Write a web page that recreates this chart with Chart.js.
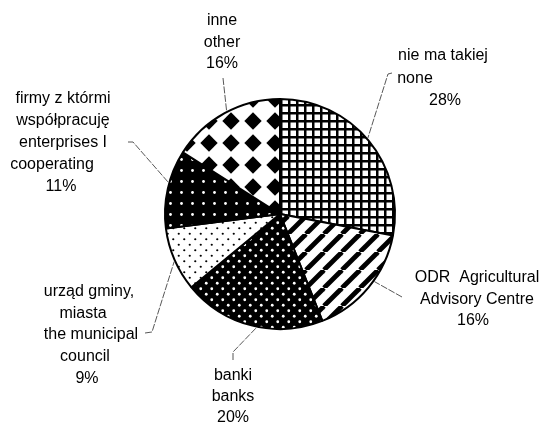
<!DOCTYPE html>
<html>
<head>
<meta charset="utf-8">
<script src="https://cdn.jsdelivr.net/npm/chart.js"></script>
<style>
  html, body { margin: 0; padding: 0; background: #fff; }
  #pie { display: block; }
</style>
</head>
<body>
<canvas id="pie" width="548" height="425"></canvas>
<script>
// slices clockwise from 12 o'clock
const categories = ['nie ma takiej', 'ODR', 'banki', 'urząd gminy', 'firmy', 'inne'];
const shares = [28, 16, 20, 9, 11, 16];
const labelText = [
  ['nie ma takiej', 'none'],
  ['ODR  Agricultural', 'Advisory Centre'],
  ['banki', 'banks'],
  ['urząd gminy,', 'miasta', 'the municipal', 'council'],
  ['firmy z którmi', 'współpracuję', 'enterprises I', 'cooperating'],
  ['inne', 'other']
];

const pieElement = document.getElementById('pie');

const makePattern = (w, h, draw) => {
  const c = document.createElement('canvas');
  c.width = w; c.height = h;
  const g = c.getContext('2d');
  draw(g, w, h);
  return g.createPattern(c, 'repeat');
};

const dots = (g, pts, r, col) => {
  g.fillStyle = col;
  pts.forEach(([x, y]) => { g.beginPath(); g.arc(x, y, r, 0, Math.PI * 2); g.fill(); });
};

const patterns = [
  // grid
  makePattern(8, 8, (g) => {
    g.fillStyle = '#fff'; g.fillRect(0, 0, 8, 8);
    g.fillStyle = '#000'; g.fillRect(0, 0, 8, 2.5); g.fillRect(0, 0, 2.5, 8);
  }),
  // diagonal stripes
  makePattern(18, 18, (g) => {
    g.fillStyle = '#fff'; g.fillRect(0, 0, 18, 18);
    g.strokeStyle = '#000'; g.lineWidth = 4.8;
    [-18, 0, 18].forEach(o => { g.beginPath(); g.moveTo(o, 18); g.lineTo(o + 18, 0); g.stroke(); });
  }),
  // black, dense white dots
  makePattern(11, 11, (g) => {
    g.fillStyle = '#000'; g.fillRect(0, 0, 11, 11);
    dots(g, [[2.75, 2.75], [8.25, 8.25]], 1.4, '#fff');
  }),
  // white, black dots
  makePattern(11, 11, (g) => {
    g.fillStyle = '#fff'; g.fillRect(0, 0, 11, 11);
    dots(g, [[2.75, 2.75], [8.25, 8.25]], 1.1, '#000');
  }),
  // black, sparse white dots
  makePattern(11, 11, (g) => {
    g.fillStyle = '#000'; g.fillRect(0, 0, 11, 11);
    dots(g, [[5.5, 5.5]], 1.4, '#fff');
  }),
  // diamonds
  makePattern(22, 22, (g) => {
    g.fillStyle = '#fff'; g.fillRect(0, 0, 22, 22);
    g.fillStyle = '#000';
    g.beginPath();
    g.moveTo(11, 2.3); g.lineTo(19.7, 11); g.lineTo(11, 19.7); g.lineTo(2.3, 11);
    g.closePath(); g.fill();
  })
];

// label placement relative to pie centre: x = centre of text, y = first baseline
const labelPlace = [
  { x: 163, y: -154, lh: 22.5, shift: [0, -28, 2] },
  { x: 197, y: 68, lh: 21.5, shift: [0, 0, -4] },
  { x: -47, y: 166, lh: 21, shift: [0, 0, 0] },
  { x: -191, y: 82, lh: 21.7, shift: [0, -6, 2, -4, -2] },
  { x: -217, y: -111, lh: 22, shift: [0, 0, 0, -11, -2] },
  { x: -58, y: -189, lh: 21.5, shift: [0, 0, 0] }
];
// leader lines: start points relative to centre, end on the rim at angle (deg clockwise from top)
const leaders = [
  { pts: [[112, -141], [108, -140]], angle: 49.2 },
  { pts: [[122, 83]], angle: 125.6 },
  { pts: [[-47, 146], [-47, 138]], angle: 191.7 },
  { pts: [[-135, 119], [-128, 118]], angle: 245.8 },
  { pts: [[-152, -72], [-147, -72]], angle: 285.8 },
  { pts: [[-57, -136]], angle: 332.6 }
];

const labelPlugin = {
  id: 'pieLabels',
  afterDraw(chart) {
    const ctx = chart.ctx;
    const arcs = chart.getDatasetMeta(0).data;
    const cx = arcs[0].x, cy = arcs[0].y, r = arcs[0].outerRadius + 1;
    ctx.save();
    // leaders
    ctx.strokeStyle = '#444';
    ctx.lineWidth = 0.9;
    ctx.setLineDash([7, 1.5]);
    leaders.forEach(l => {
      const a = l.angle * Math.PI / 180;
      ctx.beginPath();
      l.pts.forEach(([dx, dy], k) => {
        if (k === 0) ctx.moveTo(cx + dx, cy + dy); else ctx.lineTo(cx + dx, cy + dy);
      });
      ctx.lineTo(cx + r * Math.sin(a), cy - r * Math.cos(a));
      ctx.stroke();
    });
    ctx.setLineDash([]);
    // text
    ctx.fillStyle = '#000';
    ctx.font = '16px "Liberation Sans", Arial, sans-serif';
    ctx.textAlign = 'center';
    ctx.textBaseline = 'alphabetic';
    labelText.forEach((lines, i) => {
      const p = labelPlace[i];
      const all = [...lines, shares[i] + '%'];
      all.forEach((t, k) => {
        ctx.fillText(t, cx + p.x + (p.shift[k] || 0), cy + p.y + k * p.lh);
      });
    });
    ctx.restore();
  }
};

window.pieChart = new Chart(pieElement, {
  type: 'pie',
  data: {
    labels: categories,
    datasets: [{
      data: shares,
      backgroundColor: patterns,
      borderColor: '#000',
      borderWidth: 2,
      hoverOffset: 0
    }]
  },
  options: {
    responsive: false,
    animation: false,
    radius: 115,
    layout: { padding: { left: 12, right: 0, top: 3, bottom: 0 } },
    plugins: {
      legend: { display: false },
      tooltip: { enabled: false }
    }
  },
  plugins: [labelPlugin]
});
</script>
</body>
</html>
